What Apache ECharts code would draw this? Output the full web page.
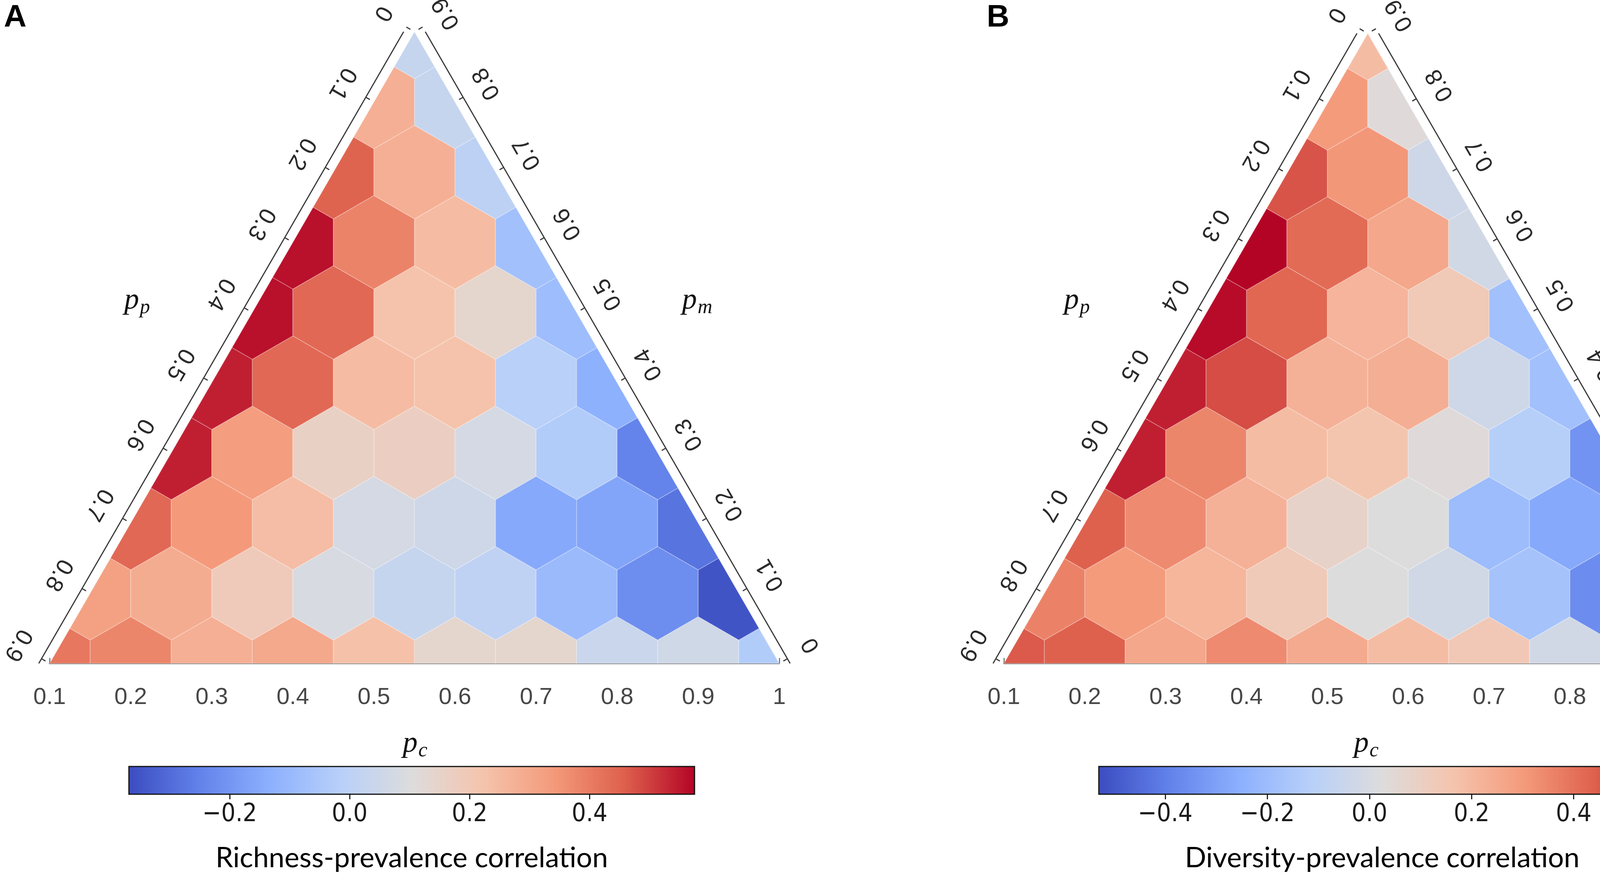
<!DOCTYPE html>
<html>
<head>
<meta charset="utf-8">
<script src="https://cdn.jsdelivr.net/npm/echarts@6/dist/echarts.min.js"></script>
<style>
    html, body { margin: 0; padding: 0; background: #fff; }
    #main { width: 4550px; height: 2246px; }
</style>
</head>
<body>
<div id="main"></div>
<script type="text/javascript">
    // ternary grid: rows are p_m levels (bottom to top), each row runs p_c = 0.1 .. 1 - p_m
    var pmLevels = [0, 0.1, 0.2, 0.3, 0.4, 0.5, 0.6, 0.7, 0.8, 0.9];
    var pcTicks = [0.1, 0.2, 0.3, 0.4, 0.5, 0.6, 0.7, 0.8, 0.9, 1];
    var ppTickValues = [0, 0.1, 0.2, 0.3, 0.4, 0.5, 0.6, 0.7, 0.8, 0.9];   // left side, top -> bottom
    var pmTickValues = [0, 0.1, 0.2, 0.3, 0.4, 0.5, 0.6, 0.7, 0.8, 0.9];   // right side, bottom -> top

    // A: richness-prevalence correlation
    var richnessRows = [
        [0.41, 0.38, 0.28, 0.30, 0.23, 0.14, 0.14, 0.04, 0.06, -0.03],
        [0.32, 0.29, 0.19, 0.085, 0.03, 0.01, -0.095, -0.22, -0.35],
        [0.44, 0.34, 0.24, 0.075, 0.055, -0.15, -0.16, -0.28],
        [0.54, 0.33, 0.16, 0.17, 0.075, -0.03, -0.245],
        [0.54, 0.44, 0.245, 0.225, -0.01, -0.13],
        [0.56, 0.44, 0.225, 0.14, -0.085],
        [0.56, 0.385, 0.245, -0.075],
        [0.45, 0.28, 0.0],
        [0.28, 0.03],
        [0.03]
    ];
    var richnessRange = [-0.368, 0.575];
    var richnessBarTicks = [-0.2, 0, 0.2, 0.4];

    // B: diversity-prevalence correlation
    var diversityRows = [
        [0.45, 0.44, 0.26, 0.34, 0.25, 0.19, 0.14, -0.02, 0.00, 0.01],
        [0.36, 0.30, 0.21, 0.13, 0.025, -0.02, -0.175, -0.36, -0.52],
        [0.44, 0.34, 0.225, 0.08, 0.025, -0.20, -0.275, -0.42],
        [0.54, 0.35, 0.19, 0.16, 0.035, -0.12, -0.34],
        [0.54, 0.47, 0.225, 0.235, -0.03, -0.185],
        [0.57, 0.425, 0.215, 0.135, -0.185],
        [0.58, 0.415, 0.26, -0.02],
        [0.46, 0.31, -0.03],
        [0.30, 0.035],
        [0.19]
    ];
    var diversityRange = [-0.53, 0.58];
    var diversityBarTicks = [-0.4, -0.2, 0, 0.2, 0.4];

    var coolwarm = ['#3b4cc0', '#6282ea', '#8db0fe', '#b8d0f9', '#dddcdc', '#f5c4ad', '#f49a7b', '#de604d', '#b40426'];

    var SQ3 = Math.sqrt(3);
    var AXIS_COLOR = '#3a3a3a';

    function toHexData(rows) {
        var out = [];
        rows.forEach(function (row, r) {
            row.forEach(function (v, j) {
                out.push([pcTicks[j], pmLevels[r], v]);
            });
        });
        return out;
    }

    // Sutherland-Hodgman, clipper is convex
    function clipPoly(subject, clipper) {
        var area = 0;
        for (var i = 0; i < clipper.length; i++) {
            var a = clipper[i], b = clipper[(i + 1) % clipper.length];
            area += a[0] * b[1] - b[0] * a[1];
        }
        var sign = area > 0 ? 1 : -1;
        var out = subject;
        for (var e = 0; e < clipper.length && out.length; e++) {
            var p0 = clipper[e], p1 = clipper[(e + 1) % clipper.length];
            var input = out;
            out = [];
            var side = function (p) {
                return sign * ((p1[0] - p0[0]) * (p[1] - p0[1]) - (p1[1] - p0[1]) * (p[0] - p0[0]));
            };
            for (var j = 0; j < input.length; j++) {
                var p = input[j], q = input[(j + 1) % input.length];
                var sp = side(p), sq = side(q);
                if (sp >= 0) out.push(p);
                if ((sp >= 0) !== (sq >= 0)) {
                    var t = sp / (sp - sq);
                    out.push([p[0] + t * (q[0] - p[0]), p[1] + t * (q[1] - p[1])]);
                }
            }
        }
        return out;
    }

    function renderHex(params, api) {
        var pc = api.value(0), pm = api.value(1);
        var c = api.coord([pc + pm / 2, pm]);
        var w = api.size([0.1, 0])[0];
        var R = w / SQ3;
        var hex = [];
        for (var k = 0; k < 6; k++) {
            var ang = Math.PI / 180 * (60 * k - 90);
            hex.push([c[0] + R * Math.cos(ang), c[1] + R * Math.sin(ang)]);
        }
        var tri = [api.coord([0.1, 0]), api.coord([1, 0]), api.coord([0.55, 0.9])];
        return {
            type: 'polygon',
            shape: {points: clipPoly(hex, tri)},
            style: {fill: api.visual('color'), stroke: 'rgba(255,255,255,0.28)', lineWidth: 2}
        };
    }

    function fmtTick(v) {
        return v === 0 ? '0' : v.toFixed(1);
    }

    function sideAxis(side) {
        return function (params, api) {
            var v = api.value(0);
            var pm = side === 'left' ? 0.9 - v : v;
            var p = api.coord([side === 'left' ? 0.1 + pm / 2 : 1 - pm / 2, pm]);
            var n = side === 'left' ? [-SQ3 / 2, -0.5] : [SQ3 / 2, -0.5];
            var gap = 24, tick = 12, lab = 94;
            var children = [];
            if (params.dataIndex === 0) {
                // axis line parallel to the edge, ends level with the triangle corners
                var dx = (side === 'left' ? -1 : 1) * gap / (SQ3 / 2);
                var e0 = api.coord(side === 'left' ? [0.1, 0] : [1, 0]);
                var e1 = api.coord([0.55, 0.9]);
                children.push({
                    type: 'line',
                    shape: {x1: e0[0] + dx, y1: e0[1], x2: e1[0] + dx, y2: e1[1]},
                    style: {stroke: AXIS_COLOR, lineWidth: 3}
                });
            }
            children.push({
                type: 'line',
                shape: {x1: p[0] + n[0] * gap, y1: p[1] + n[1] * gap, x2: p[0] + n[0] * (gap - tick), y2: p[1] + n[1] * (gap - tick)},
                style: {stroke: AXIS_COLOR, lineWidth: 3}
            });
            children.push({
                type: 'text',
                x: p[0] + n[0] * lab,
                y: p[1] + n[1] * lab,
                rotation: side === 'left' ? 4 * Math.PI / 3 : 2 * Math.PI / 3,
                style: {
                    text: fmtTick(v), fill: '#2a2a2a', fontSize: 60, fontFamily: 'Liberation Sans',
                    align: 'center', verticalAlign: 'middle'
                }
            });
            return {type: 'group', children: children};
        };
    }

    function renderBar(params, api) {
        var p0 = api.coord([api.value(0), 1]);
        var p1 = api.coord([api.value(1), 0]);
        var stops = coolwarm.map(function (c, i) {
            return {offset: i / (coolwarm.length - 1), color: c};
        });
        return {
            type: 'rect',
            shape: {x: p0[0], y: p0[1], width: p1[0] - p0[0], height: p1[1] - p0[1]},
            style: {fill: new echarts.graphic.LinearGradient(0, 0, 1, 0, stops), stroke: '#111', lineWidth: 3}
        };
    }

    function barLabel(v) {
        return (v < 0 ? '\u2212' : '') + Math.abs(v).toFixed(1);
    }

    var panels = [
        {rows: richnessRows, range: richnessRange, barTicks: richnessBarTicks,
         name: 'Richness-prevalence correlation', left: 127, width: 1868, barLeft: 330, barWidth: 1448},
        {rows: diversityRows, range: diversityRange, barTicks: diversityBarTicks,
         name: 'Diversity-prevalence correlation', left: 2570, width: 1863, barLeft: 2813, barWidth: 1451}
    ];

    var grids = [], xAxes = [], yAxes = [], series = [], visualMaps = [];
    panels.forEach(function (pn) {
        var h = pn.width * SQ3 / 2;
        var g = grids.length;
        grids.push({left: pn.left, top: 1699 - h, width: pn.width, height: h});
        grids.push({left: pn.barLeft, top: 1963, width: pn.barWidth, height: 71});

        xAxes.push({
            gridIndex: g, type: 'value', min: 0.1, max: 1, interval: 0.1, offset: 24,
            axisLine: {lineStyle: {color: '#7a7a7a', width: 4}},
            axisTick: {inside: true, length: 14, lineStyle: {color: '#7a7a7a', width: 3}},
            axisLabel: {
                margin: 33, fontSize: 60, fontFamily: 'Liberation Sans', color: '#474747',
                formatter: function (v) { return Math.abs(v - 1) < 1e-9 ? '1' : v.toFixed(1); }
            },
            splitLine: {show: false}
        });
        yAxes.push({gridIndex: g, type: 'value', min: 0, max: 0.9, show: false});

        xAxes.push({
            gridIndex: g + 1, type: 'value', min: pn.range[0], max: pn.range[1],
            axisLine: {show: false},
            axisTick: {show: true, length: 13, customValues: pn.barTicks, lineStyle: {color: '#222', width: 3}},
            axisLabel: {
                customValues: pn.barTicks, margin: 20, fontSize: 64,
                fontFamily: "'DejaVu Sans Condensed', 'DejaVu Sans'", color: '#1a1a1a',
                formatter: barLabel
            },
            splitLine: {show: false},
            name: pn.name, nameLocation: 'middle', nameGap: 128,
            nameTextStyle: {fontSize: 72, fontFamily: 'Lato', color: '#000'}
        });
        yAxes.push({gridIndex: g + 1, type: 'value', min: 0, max: 1, show: false});

        visualMaps.push({
            type: 'continuous', show: false, seriesIndex: series.length, dimension: 2,
            min: pn.range[0], max: pn.range[1], inRange: {color: coolwarm}
        });
        series.push({
            type: 'custom', xAxisIndex: g, yAxisIndex: g, renderItem: renderHex,
            encode: {x: 0, y: 1}, data: toHexData(pn.rows), silent: true
        });
        series.push({
            type: 'custom', xAxisIndex: g, yAxisIndex: g, renderItem: sideAxis('left'),
            encode: {x: 0, y: 1}, data: ppTickValues.map(function (v) { return [v, 0]; }), silent: true
        });
        series.push({
            type: 'custom', xAxisIndex: g, yAxisIndex: g, renderItem: sideAxis('right'),
            encode: {x: 0, y: 1}, data: pmTickValues.map(function (v) { return [v, 0]; }), silent: true
        });
        series.push({
            type: 'custom', xAxisIndex: g + 1, yAxisIndex: g + 1, renderItem: renderBar,
            encode: {x: [0, 1]}, data: [[pn.range[0], pn.range[1]]], silent: true
        });
    });

    function pLabel(x, y, sub) {
        return {
            type: 'group', x: x, y: y,
            children: [
                {type: 'text', x: -6, y: 0, style: {text: 'p', fontSize: 76, fontStyle: 'italic',
                    fontFamily: 'Liberation Serif', fill: '#111', align: 'right', verticalAlign: 'middle'}},
                {type: 'text', x: -4, y: 18, style: {text: sub, fontSize: 52, fontStyle: 'italic',
                    fontFamily: 'Liberation Serif', fill: '#111', align: 'left', verticalAlign: 'middle'}}
            ]
        };
    }

    var myChart = echarts.init(document.getElementById('main'));
    myChart.setOption({
        animation: false,
        backgroundColor: '#fff',
        grid: grids,
        xAxis: xAxes,
        yAxis: yAxes,
        visualMap: visualMaps,
        series: series,
        graphic: [
            {type: 'text', left: 10, top: 6, style: {text: 'A', fontSize: 80, fontWeight: 'bold', fontFamily: 'Liberation Sans', fill: '#000'}},
            {type: 'text', left: 2526, top: 6, style: {text: 'B', fontSize: 80, fontWeight: 'bold', fontFamily: 'Liberation Sans', fill: '#000'}},
            pLabel(362, 770, 'p'),
            pLabel(1790, 770, 'm'),
            pLabel(1075, 1905, 'c'),
            pLabel(2768, 770, 'p'),
            pLabel(4212, 770, 'm'),
            pLabel(3510, 1905, 'c')
        ]
    });
</script>
</body>
</html>
